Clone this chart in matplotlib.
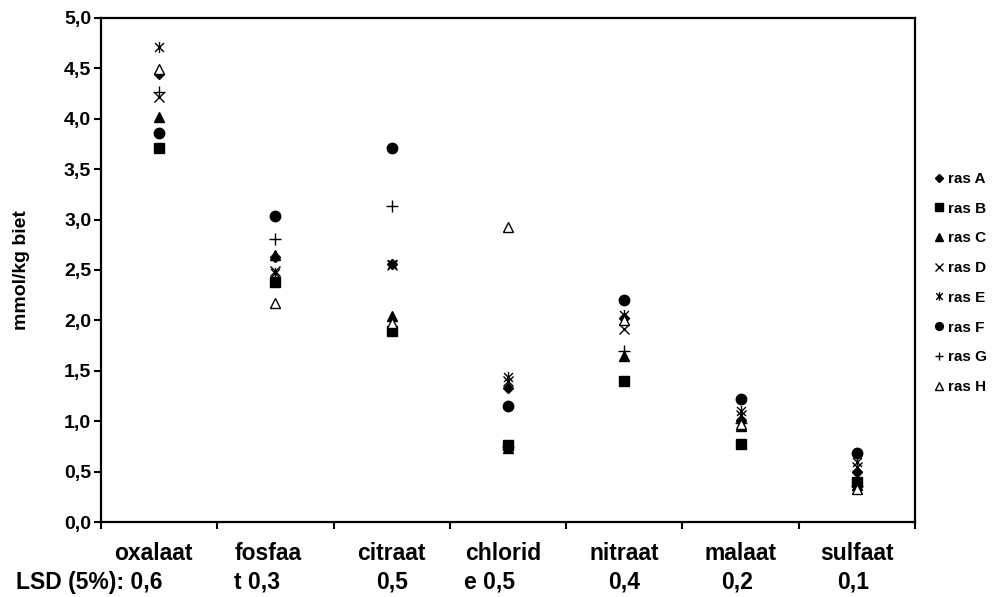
import numpy as np
import matplotlib.pyplot as plt
from matplotlib.path import Path

plt.rcParams['font.family'] = ['Liberation Sans', 'DejaVu Sans']
plt.rcParams['font.weight'] = 'bold'

# anionen per ras (mmol/kg biet)
categories = ["oxalaat", "fosfaat", "citraat", "chloride", "nitraat", "malaat", "sulfaat"]
line1 = ["oxalaat", "fosfaa", "citraat", "chlorid", "nitraat", "malaat", "sulfaat"]
line2 = ["LSD (5%): 0,6", "t 0,3", "0,5", "e 0,5", "0,4", "0,2", "0,1"]

ras_A = [4.44, 2.63, 2.56, 1.33, 2.02, 1.00, 0.50]
ras_B = [3.71, 2.38, 1.89, 0.76, 1.40, 0.77, 0.40]
ras_C = [4.02, 2.65, 2.04, 0.73, 1.65, 0.95, 0.37]
ras_D = [4.22, 2.49, 2.55, 1.40, 1.91, 1.06, 0.55]
ras_E = [4.71, 2.47, 2.56, 1.44, 2.05, 1.10, 0.60]
ras_F = [3.86, 3.04, 3.71, 1.15, 2.20, 1.22, 0.68]
ras_G = [4.27, 2.81, 3.13, 0.74, 1.70, 0.98, 0.36]
ras_H = [4.49, 2.17, 1.97, 2.93, 2.00, 0.97, 0.33]

# sterretje: kruis met verticale lijn
star = Path([(-1, -1), (1, 1), (-1, 1), (1, -1), (0, -1.25), (0, 1.25)],
            [Path.MOVETO, Path.LINETO, Path.MOVETO, Path.LINETO, Path.MOVETO, Path.LINETO])

series = [
    ("ras A", ras_A, dict(marker='D', ms=5.5, mfc='black')),
    ("ras B", ras_B, dict(marker='s', ms=7, mfc='black')),
    ("ras C", ras_C, dict(marker='^', ms=7.5, mfc='black')),
    ("ras D", ras_D, dict(marker='x', ms=7, mew=1.0)),
    ("ras E", ras_E, dict(marker=star, ms=8, mew=1.0, mfc='none')),
    ("ras F", ras_F, dict(marker='o', ms=7.5, mfc='black')),
    ("ras G", ras_G, dict(marker='+', ms=8, mew=1.0)),
    ("ras H", ras_H, dict(marker='^', ms=7.5, mfc='white', mew=1.0)),
]

fig = plt.figure(figsize=(9.99, 5.97), dpi=100)
ax = fig.add_axes([0.101, 0.1256, 0.815, 0.8444])

x = np.arange(len(categories))
for name, vals, style in series:
    ax.plot(x, vals, linestyle='none', color='black', mec='black', label=name, **style)

ax.set_xlim(-0.5, len(categories) - 0.5)
ax.set_ylim(0, 5.0)
yt = np.arange(0, 5.01, 0.5)
ax.set_yticks(yt)
ax.set_yticklabels([f"{v:.1f}".replace('.', ',') for v in yt], fontsize=14, fontweight='bold')
ax.set_xticks(np.arange(-0.5, len(categories), 1.0))
ax.set_xticklabels([])
ax.tick_params(axis='both', direction='out', length=5, width=1.5, pad=2)

for s in ax.spines.values():
    s.set_linewidth(1.6)

ax.set_ylabel("mmol/kg biet", fontsize=14, fontweight='bold')
ax.yaxis.set_label_coords(-0.087, 0.5)

# categorielabels in twee regels (afgebroken zoals in de werkmap)
off1 = [-0.05, -0.06, 0.0, -0.04, 0.0, 0.0, 0.0]
off2 = [0.03, -0.16, 0.0, -0.16, 0.0, -0.03, -0.03]
trans = ax.get_xaxis_transform()
for i in range(len(categories)):
    ax.text(i + off1[i], -0.062, line1[i], transform=trans,
            ha='center', va='center', fontsize=16.5, fontweight='bold')
    ax.text(i + off2[i], -0.119, line2[i], transform=trans,
            ha='right' if i == 0 else 'center', va='center', fontsize=16.5, fontweight='bold')

fig.legend(loc='center left', bbox_to_anchor=(0.934, 0.526), frameon=False,
           handlelength=0.8, handletextpad=0.2, labelspacing=1.03,
           borderpad=0, borderaxespad=0, markerscale=0.75,
           prop={'weight': 'bold', 'size': 11})

fig.savefig("out.png", dpi=100)
